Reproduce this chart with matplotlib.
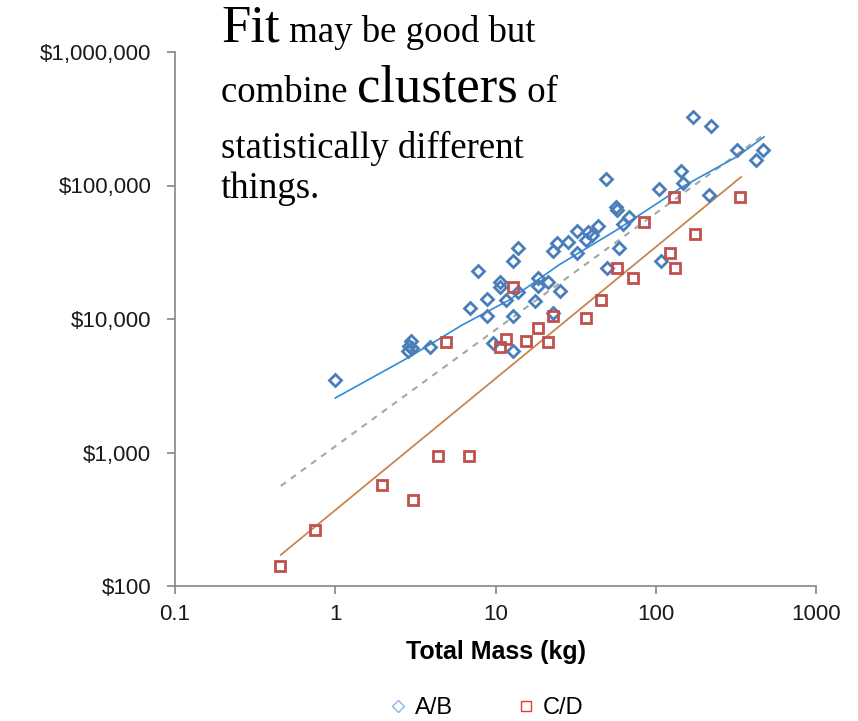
import matplotlib
matplotlib.use("Agg")
import matplotlib.pyplot as plt
from matplotlib.lines import Line2D
import numpy as np

# A/B systems: total mass (kg) and cost ($)
ab_mass = [1.0, 2.95, 2.85, 3.0, 2.9, 3.9, 6.9, 7.8, 8.8, 8.8, 9.7, 12.8, 10.6, 10.7,
           11.7, 12.8, 13.9, 13.9, 12.8, 17.7, 18.5, 18.5, 21.4, 23, 24.3, 25.4, 23,
           28.5, 32.4, 32.4, 36.9, 38, 40, 43.9, 49, 49.9, 56.8, 57.5, 59.3, 62.8,
           68.4, 105, 108, 144, 148, 171, 215, 222, 322, 423, 468]
ab_cost = [3500, 6900, 5800, 6050, 6300, 6200, 12100, 22900, 14100, 10500, 6600, 5770,
           18900, 17400, 13900, 27200, 34000, 15900, 10500, 13600, 20300, 17700, 18900,
           32300, 37100, 16300, 11100, 38000, 45600, 31200, 39000, 44800, 42600, 49700,
           112000, 24100, 69000, 65000, 34000, 51500, 58000, 94200, 27200, 128500,
           104500, 326000, 85000, 279000, 184500, 155000, 184500]

# C/D systems
cd_mass = [0.451, 0.745, 1.95, 3.04, 4.35, 6.8, 4.88, 10.6, 11.7, 12.8, 15.6, 18.5,
           21.4, 23, 36.9, 45.7, 57.5, 72.4, 84.8, 123, 132, 130, 176, 336]
cd_cost = [141, 262, 571, 441, 941, 941, 6730, 6170, 7080, 17400, 6840, 8570, 6730,
           10530, 10200, 13900, 24100, 20300, 53300, 31200, 24100, 82000, 43300, 82000]

# trend lines
ab_fit_mass = [1, 2.9, 6.2, 12.2, 25, 57, 146, 318, 474]
ab_fit_cost = [2560, 5190, 9020, 13900, 25500, 46400, 97500, 163500, 231000]
all_fit_mass = [0.457, 461]
all_fit_cost = [561, 235000]
cd_fit_mass = [0.457, 341]
cd_fit_cost = [171, 116000]

y_ticks = [100, 1000, 10000, 100000, 1000000]
y_labels = ['$100', '$1,000', '$10,000', '$100,000', '$1,000,000']
x_ticks = [0.1, 1, 10, 100, 1000]
x_labels = ['0.1', '1', '10', '100', '1000']

W, H = 858, 721
fig = plt.figure(figsize=(W / 100, H / 100), dpi=100)
ax = fig.add_axes([175 / W, (H - 586) / H, (816 - 175) / W, (586 - 52) / H])

blue = '#4A7EBB'
red = '#C0504D'

ax.plot(all_fit_mass, all_fit_cost, color='#A6A6A6', lw=1.5, ls=(0, (3, 3)), zorder=2)
ax.plot(ab_fit_mass, ab_fit_cost, color='#2D8DD8', lw=1.2, zorder=2)
ax.plot(cd_fit_mass, cd_fit_cost, color='#C8864E', lw=1.3, zorder=2)

ax.plot(ab_mass, ab_cost, ls='none', marker='D', ms=6.3, mfc='none', mec=blue, mew=2.0, zorder=3)
ax.plot(cd_mass, cd_cost, ls='none', marker='s', ms=7.0, mfc='none', mec=red, mew=2.0, zorder=3)

ax.set_xscale('log')
ax.set_yscale('log')
ax.set_xlim(0.1, 1000)
ax.set_ylim(100, 1000000)
ax.set_xticks(x_ticks)
ax.set_xticklabels(x_labels)
ax.set_yticks(y_ticks)
ax.set_yticklabels(y_labels)
ax.minorticks_off()

for s in ['top', 'right']:
    ax.spines[s].set_visible(False)
for s in ['left', 'bottom']:
    ax.spines[s].set_color('#868686')
    ax.spines[s].set_linewidth(1.2)
ax.tick_params(axis='both', direction='out', length=6, width=1.2, color='#868686',
               labelsize=16, labelcolor='#1a1a1a')
ax.tick_params(axis='y', pad=11)
ax.tick_params(axis='x', pad=7)
for lab in ax.get_xticklabels() + ax.get_yticklabels():
    lab.set_family('Liberation Sans')

ax.set_xlabel('Total Mass (kg)', fontsize=18, fontweight='bold', family='Liberation Sans',
              labelpad=11)

handles = [
    Line2D([], [], ls='none', marker='D', ms=6, mfc='none', mec='#8DB4E2', mew=1.0),
    Line2D([], [], ls='none', marker='s', ms=7.5, mfc='none', mec='#E03C3C', mew=1.0),
]
fig.legend(handles, ['A/B', 'C/D'], loc='center', bbox_to_anchor=(486 / W, 1 - 708 / H),
           ncol=2, frameon=False, handlelength=0.8, handletextpad=0.3, columnspacing=2.7,
           prop={'family': 'Liberation Sans', 'size': 17})

# annotation text, pieces chained along each baseline
renderer = fig.canvas.get_renderer()
lines = [
    (42, [('Fit', 38), (' may be good but', 26.5)]),
    (102, [('combine ', 26.5), ('clusters', 38), (' of', 26.5)]),
    (158, [('statistically different', 26.5)]),
    (198, [('things.', 26.5)]),
]
for base_y, pieces in lines:
    x = 221
    for txt, size in pieces:
        t = fig.text(x / W, 1 - base_y / H, txt, fontsize=size, family='Liberation Serif',
                     va='baseline', ha='left', color='black')
        x = t.get_window_extent(renderer).x1

fig.savefig('out.png', dpi=100)
